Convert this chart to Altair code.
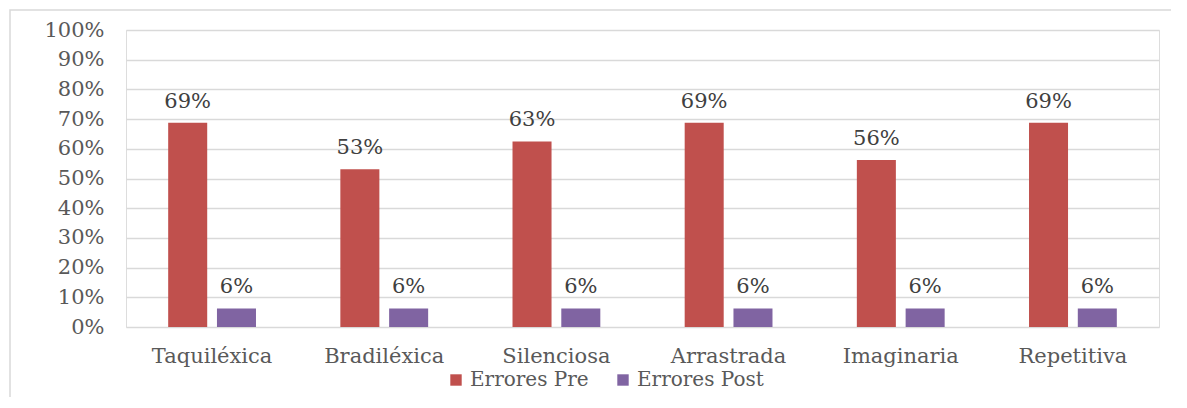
import altair as alt
import pandas as pd

categories = ["Taquiléxica", "Bradiléxica", "Silenciosa", "Arrastrada", "Imaginaria", "Repetitiva"]
series = ["Errores Pre", "Errores Post"]
pre_values = [0.6875, 0.53125, 0.625, 0.6875, 0.5625, 0.6875]
post_values = [0.0625, 0.0625, 0.0625, 0.0625, 0.0625, 0.0625]
colors = ["#C0504D", "#8064A2"]

rows = []
for c, a, b in zip(categories, pre_values, post_values):
    rows.append({"cat": c, "serie": series[0], "val": a})
    rows.append({"cat": c, "serie": series[1], "val": b})
df = pd.DataFrame(rows)

FONT = "DejaVu Serif"
FS = 21

x = alt.X("cat:N", sort=categories, title=None,
          scale=alt.Scale(paddingInner=0.49, paddingOuter=0.245),
          axis=alt.Axis(labelAngle=0, labelFontSize=FS, labelColor="#595959",
                        labelFont=FONT, domain=False, ticks=False, labelPadding=18))
xo = alt.XOffset("serie:N", sort=series, scale=alt.Scale(paddingInner=0.2, paddingOuter=0))
y = alt.Y("val:Q", title=None,
          scale=alt.Scale(domain=[0, 1]),
          axis=alt.Axis(format=".0%", values=[i / 10 for i in range(11)],
                        labelFontSize=FS, labelColor="#595959", labelFont=FONT,
                        domain=False, ticks=False, labelPadding=22,
                        gridColor="#D9D9D9", gridWidth=1.5))
color = alt.Color("serie:N", sort=series,
                  scale=alt.Scale(domain=series, range=colors),
                  legend=alt.Legend(title=None, orient="none", direction="horizontal",
                                    legendX=320, legendY=340, symbolType="square",
                                    symbolSize=130, symbolStrokeWidth=0,
                                    labelFontSize=20, labelFont=FONT, labelColor="#595959",
                                    columnPadding=24, labelOffset=4))

bars = alt.Chart(df).mark_bar(opacity=1).encode(x=x, xOffset=xo, y=y, color=color)
labels = alt.Chart(df).mark_text(dy=-11, baseline="bottom", fontSize=FS, font=FONT,
                                 color="#404040").encode(
    x=x, xOffset=xo, y=y, text=alt.Text("val:Q", format=".0%"))
frame = alt.Chart(pd.DataFrame({"a": [0]})).mark_rect(
    fill=None, stroke="#D9D9D9", strokeWidth=1.5).encode(
    x=alt.value(-116), x2=alt.value(1100), y=alt.value(-20), y2=alt.value(420))

chart = alt.layer(frame, bars, labels).properties(
    width=1033, height=297,
    autosize=alt.AutoSizeParams(type="none"),
    padding={"left": 118, "top": 22, "right": 12, "bottom": 70},
).configure_view(stroke=None).configure(background="white")

chart.save("out.html", embed_options={"renderer": "svg", "actions": False})
